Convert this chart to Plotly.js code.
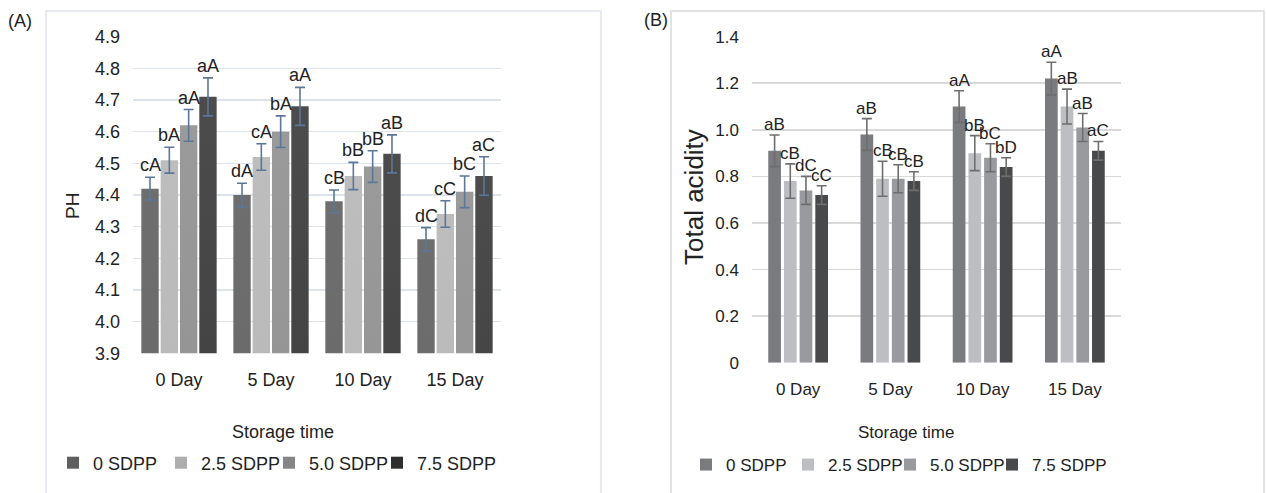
<!DOCTYPE html>
<html>
<head>
<meta charset="utf-8">
<script src="https://cdn.plot.ly/plotly-3.0.1.min.js"></script>
<style>html,body{margin:0;padding:0;background:#fff;}#chart{width:1266px;height:493px;}</style>
</head>
<body>
<div id="chart"></div>
<script>
// ---------- data ----------
const days = ['0 Day', '5 Day', '10 Day', '15 Day'];
const seriesNames = ['0 SDPP', '2.5 SDPP', '5.0 SDPP', '7.5 SDPP'];

// Panel A: pH
const ph_0 = [4.42, 4.40, 4.38, 4.26];
const ph_25 = [4.51, 4.52, 4.46, 4.34];
const ph_50 = [4.62, 4.60, 4.49, 4.41];
const ph_75 = [4.71, 4.68, 4.53, 4.46];
const phErr_0 = [0.036, 0.037, 0.036, 0.037];
const phErr_25 = [0.041, 0.042, 0.043, 0.042];
const phErr_50 = [0.05, 0.05, 0.05, 0.05];
const phErr_75 = [0.06, 0.06, 0.06, 0.061];
const phLbl_0 = ['cA', 'dA', 'cB', 'dC'];
const phLbl_25 = ['bA', 'cA', 'bB', 'cC'];
const phLbl_50 = ['aA', 'bA', 'bB', 'bC'];
const phLbl_75 = ['aA', 'aA', 'aB', 'aC'];

// Panel B: total acidity
const ta_0 = [0.91, 0.98, 1.10, 1.22];
const ta_25 = [0.78, 0.79, 0.90, 1.10];
const ta_50 = [0.74, 0.79, 0.88, 1.01];
const ta_75 = [0.72, 0.78, 0.84, 0.91];
const taErr_0 = [0.068, 0.068, 0.068, 0.07];
const taErr_25 = [0.074, 0.075, 0.075, 0.075];
const taErr_50 = [0.06, 0.06, 0.06, 0.06];
const taErr_75 = [0.04, 0.04, 0.04, 0.04];
const taLbl_0 = ['aB', 'aB', 'aA', 'aA'];
const taLbl_25 = ['cB', 'cB', 'bB', 'aB'];
const taLbl_50 = ['dC', 'cB', 'bC', 'aB'];
const taLbl_75 = ['cC', 'cB', 'bD', 'aC'];

const yTickValsA = [3.9, 4.0, 4.1, 4.2, 4.3, 4.4, 4.5, 4.6, 4.7, 4.8, 4.9];
const yTickValsB = [0, 0.2, 0.4, 0.6, 0.8, 1.0, 1.2, 1.4];
const yTickTextB = ['0', '0.2', '0.4', '0.6', '0.8', '1.0', '1.2', '1.4'];

// ---------- styling ----------
const FONT = 'Liberation Sans, Arial, Helvetica, sans-serif';
const TXT = '#222222';
const colorsA = ['#5f5f5f', '#adadad', '#858585', '#2e2e2e'];
const gradA = [['#6e6e6e', '#535353'], ['#bdbdbd', '#a6a6a6'], ['#9a9a9a', '#7a7a7a'], ['#4c4c4c', '#1c1c1c']];
const colorsB = ['#7a7b7e', '#bdbec1', '#999a9d', '#48494b'];

const W = 1266, H = 493;
const px = v => v / W;
const py = v => 1 - v / H;

const groupA = 0.84, gapA = 0.10;
const groupB = 0.68, gapB = 0.19;

function geom(group, gap, i) {
  const slot = group / 4;
  const width = slot * (1 - gap);
  const offset = -group / 2 + i * slot + (slot - width) / 2;
  return {width: width, offset: offset, center: offset + width / 2};
}

const dataA = [ph_0, ph_25, ph_50, ph_75];
const errA = [phErr_0, phErr_25, phErr_50, phErr_75];
const lblA = [phLbl_0, phLbl_25, phLbl_50, phLbl_75];
const dataB = [ta_0, ta_25, ta_50, ta_75];
const errB = [taErr_0, taErr_25, taErr_50, taErr_75];
const lblB = [taLbl_0, taLbl_25, taLbl_50, taLbl_75];

const traces = [];
const annotations = [];

dataA.forEach((vals, i) => {
  const g = geom(groupA, gapA, i);
  traces.push({
    type: 'bar', x: days, y: vals, name: seriesNames[i],
    xaxis: 'x', yaxis: 'y', legend: 'legend',
    width: g.width, offset: g.offset,
    marker: {color: colorsA[i], line: {width: 0}},
    error_y: {type: 'data', array: errA[i], visible: true, color: '#5b7799', thickness: 1.6, width: 5}
  });
  vals.forEach((v, k) => {
    annotations.push({
      xref: 'x', yref: 'y', x: k + g.center, y: v + errA[i][k],
      text: lblA[i][k], showarrow: false, xanchor: 'center', yanchor: 'bottom',
      font: {family: FONT, size: 18, color: TXT}, borderpad: 0, yshift: 1
    });
  });
});

dataB.forEach((vals, i) => {
  const g = geom(groupB, gapB, i);
  traces.push({
    type: 'bar', x: days, y: vals, name: seriesNames[i],
    xaxis: 'x2', yaxis: 'y2', legend: 'legend2',
    width: g.width, offset: g.offset,
    marker: {color: colorsB[i], line: {width: 0}},
    error_y: {type: 'data', array: errB[i], visible: true, color: '#6e6e6e', thickness: 1.6, width: 5}
  });
  vals.forEach((v, k) => {
    annotations.push({
      xref: 'x2', yref: 'y2', x: k + g.center, y: v + errB[i][k],
      text: lblB[i][k], showarrow: false, xanchor: 'center', yanchor: 'bottom',
      font: {family: FONT, size: 17, color: TXT}, borderpad: 0, yshift: 0
    });
  });
});

// titles & panel letters
annotations.push(
  {xref: 'paper', yref: 'paper', x: px(72), y: py(206), text: 'PH', textangle: -90, showarrow: false,
   xanchor: 'center', yanchor: 'middle', font: {family: FONT, size: 19, color: TXT}},
  {xref: 'paper', yref: 'paper', x: px(694), y: py(197), text: 'Total acidity', textangle: -90, showarrow: false,
   xanchor: 'center', yanchor: 'middle', font: {family: FONT, size: 26, color: TXT}},
  {xref: 'paper', yref: 'paper', x: px(283), y: py(432), text: 'Storage time', showarrow: false,
   xanchor: 'center', yanchor: 'middle', font: {family: FONT, size: 18, color: TXT}},
  {xref: 'paper', yref: 'paper', x: px(906), y: py(432), text: 'Storage time', showarrow: false,
   xanchor: 'center', yanchor: 'middle', font: {family: FONT, size: 17, color: TXT}},
  {xref: 'paper', yref: 'paper', x: px(20), y: py(21), text: '(A)', showarrow: false,
   xanchor: 'center', yanchor: 'middle', font: {family: FONT, size: 18, color: TXT}},
  {xref: 'paper', yref: 'paper', x: px(656), y: py(20), text: '(B)', showarrow: false,
   xanchor: 'center', yanchor: 'middle', font: {family: FONT, size: 18, color: TXT}}
);

const layout = {
  width: W, height: H,
  margin: {l: 0, r: 0, t: 0, b: 0},
  paper_bgcolor: '#ffffff', plot_bgcolor: 'rgba(0,0,0,0)',
  barmode: 'overlay',
  font: {family: FONT, color: TXT},
  xaxis: {
    domain: [px(133), px(501)], anchor: 'y', type: 'category', range: [-0.5, 3.5],
    showgrid: false, showline: false, zeroline: false, ticks: '', ticklabelstandoff: 14,
    tickfont: {family: FONT, size: 18, color: TXT}, fixedrange: true
  },
  yaxis: {
    domain: [1 - 353.3 / H, 1 - 36.7 / H], anchor: 'x', range: [3.9, 4.9],
    tickvals: yTickValsA, tickformat: '.1f', showgrid: true, gridcolor: '#dde3ea', gridwidth: 1.6,
    zeroline: false, showline: false, ticks: '', ticklabelstandoff: 12,
    tickfont: {family: FONT, size: 18, color: TXT}, fixedrange: true
  },
  xaxis2: {
    domain: [px(752), px(1121)], anchor: 'y2', type: 'category', range: [-0.5, 3.5],
    showgrid: false, showline: false, zeroline: false, ticks: '', ticklabelstandoff: 14,
    tickfont: {family: FONT, size: 17, color: TXT}, fixedrange: true
  },
  yaxis2: {
    domain: [1 - 362.7 / H, 1 - 36.7 / H], anchor: 'x2', range: [0, 1.4],
    tickvals: yTickValsB, ticktext: yTickTextB, showgrid: true, gridcolor: '#d9d9d9', gridwidth: 1.6,
    zeroline: false, showline: false, ticks: '', ticklabelstandoff: 12,
    tickfont: {family: FONT, size: 17, color: TXT}, fixedrange: true
  },
  legend: {
    orientation: 'h', x: px(53), xanchor: 'left', y: py(463), yanchor: 'middle',
    font: {family: FONT, size: 18, color: TXT}, entrywidth: 63, traceorder: 'normal',
    bgcolor: 'rgba(0,0,0,0)'
  },
  legend2: {
    orientation: 'h', x: px(686), xanchor: 'left', y: py(465), yanchor: 'middle',
    font: {family: FONT, size: 17, color: TXT}, entrywidth: 57, traceorder: 'normal',
    bgcolor: 'rgba(0,0,0,0)'
  },
  shapes: [
    {type: 'rect', xref: 'paper', yref: 'paper', x0: px(46), x1: px(601), y0: -0.05, y1: py(11),
     line: {color: '#dfe4ec', width: 1.5}, fillcolor: 'rgba(0,0,0,0)', layer: 'below'},
    {type: 'rect', xref: 'paper', yref: 'paper', x0: px(671), x1: px(1264), y0: -0.05, y1: py(11),
     line: {color: '#d9d9d9', width: 1.5}, fillcolor: 'rgba(0,0,0,0)', layer: 'below'}
  ],
  annotations: annotations
};

Plotly.newPlot('chart', traces, layout, {staticPlot: true, displayModeBar: false}).then(gd => {
  // let the last legend entry's text overflow its fixed entry width instead of being clipped
  gd.querySelectorAll('.scrollbox').forEach(s => s.removeAttribute('clip-path'));
  gd.querySelectorAll('.infolayer > g').forEach(g => {
    if (/legend/.test(g.getAttribute('class') || '')) g.removeAttribute('clip-path');
  });
  try {
    const svg = gd.querySelector('svg.main-svg');
    const NS = 'http://www.w3.org/2000/svg';
    let defs = svg.querySelector('defs');
    if (!defs) { defs = document.createElementNS(NS, 'defs'); svg.insertBefore(defs, svg.firstChild); }
    gradA.forEach((c, i) => {
      const lg = document.createElementNS(NS, 'linearGradient');
      lg.setAttribute('id', 'gradA' + i);
      lg.setAttribute('x1', '0'); lg.setAttribute('y1', '0');
      lg.setAttribute('x2', '0'); lg.setAttribute('y2', '1');
      [['0%', c[0]], ['100%', c[1]]].forEach(s => {
        const st = document.createElementNS(NS, 'stop');
        st.setAttribute('offset', s[0]); st.setAttribute('stop-color', s[1]);
        lg.appendChild(st);
      });
      defs.appendChild(lg);
    });
    const barTraces = gd.querySelectorAll('.subplot.xy .barlayer .trace.bars');
    barTraces.forEach((t, i) => {
      t.querySelectorAll('.point path').forEach(p => { p.style.fill = 'url(#gradA' + i + ')'; });
    });
  } catch (e) { /* keep solid colours */ }
});
</script>
</body>
</html>
